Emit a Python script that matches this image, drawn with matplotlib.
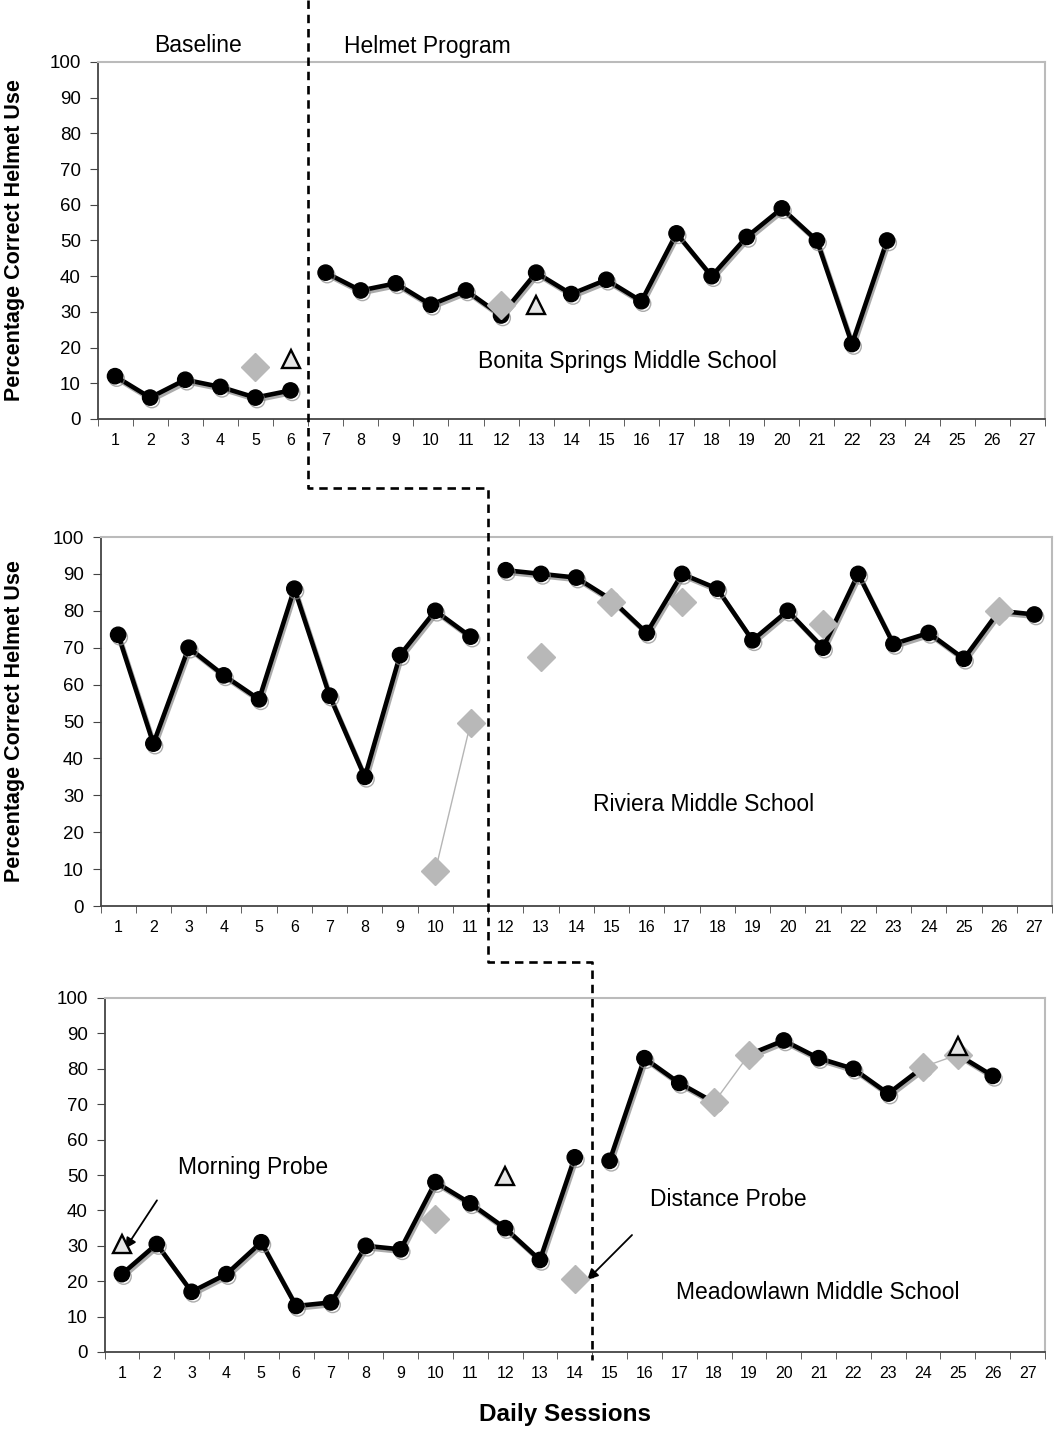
import numpy as np
import matplotlib
matplotlib.use("Agg")
import matplotlib.pyplot as plt
import matplotlib.patheffects as pe
from matplotlib.lines import Line2D

plt.rcParams['font.family'] = ['Liberation Sans', 'DejaVu Sans']

# ---- Bonita Springs (ust panel) ----
top_base_x = [1, 2, 3, 4, 5, 6]
top_base_y = [12, 6, 11, 9, 6, 8]
top_prog_x = list(range(7, 24))
top_prog_y = [41, 36, 38, 32, 36, 29, 41, 35, 39, 33, 52, 40, 51, 59, 50, 21, 50]
top_dia_x = [5, 12]
top_dia_y = [14.5, 32]
top_tri_x = [6, 13]
top_tri_y = [16.7, 31.8]

# ---- Riviera (orta panel) ----
mid_base_x = list(range(1, 12))
mid_base_y = [73.5, 44, 70, 62.5, 56, 86, 57, 35, 68, 80, 73]
mid_prog_x = list(range(12, 28))
mid_prog_y = [91, 90, 89, 83, 74, 90, 86, 72, 80, 70, 90, 71, 74, 67, 80, 79]
mid_dia_x = [10, 11, 13, 15, 17, 21, 26]
mid_dia_y = [9.5, 49.5, 67.5, 82.5, 82.5, 76.5, 80]

# ---- Meadowlawn (alt panel) ----
bot_base_x = list(range(1, 15))
bot_base_y = [22, 30.5, 17, 22, 31, 13, 14, 30, 29, 48, 42, 35, 26, 55]
bot_prog1_x = [15, 16, 17, 18]
bot_prog1_y = [54, 83, 76, 70.5]
bot_prog2_x = [19, 20, 21, 22, 23, 24]
bot_prog2_y = [84, 88, 83, 80, 73, 80.5]
bot_prog3_x = [25, 26]
bot_prog3_y = [84, 78]
bot_dia_x = [10, 14, 18, 19, 24, 25]
bot_dia_y = [37.5, 20.5, 70.5, 84, 80.5, 84]
bot_tri_x = [1, 12, 25]
bot_tri_y = [30.5, 49.7, 86.5]

sessions = list(range(1, 28))
yticks = list(range(0, 101, 10))

W, H = 1062, 1430
fig = plt.figure(figsize=(W / 100, H / 100), dpi=100)


def px_axes(left, right, ytop, ybot):
    # piksel kenarlarindan eksen olustur
    return fig.add_axes([left / W, 1 - ybot / H, (right - left) / W, (ybot - ytop) / H])


def style_axes(ax):
    ax.set_xlim(0.5, 27.5)
    ax.set_ylim(0, 100)
    ax.set_xticks(sessions)
    ax.set_xticklabels([str(s) for s in sessions], fontsize=11.5)
    ax.set_xticks(np.arange(0.5, 28, 1), minor=True)
    ax.tick_params(axis='x', which='major', length=0, pad=10)
    ax.tick_params(axis='x', which='minor', length=5, direction='out', color='#444444')
    ax.set_yticks(yticks)
    ax.set_yticklabels([str(v) for v in yticks], fontsize=13.5)
    ax.tick_params(axis='y', length=6, direction='out', color='#444444', pad=6)
    for s in ['left', 'bottom']:
        ax.spines[s].set_color('#444444')
        ax.spines[s].set_linewidth(1.3)
    for s in ['top', 'right']:
        ax.spines[s].set_color('#bbbbbb')
        ax.spines[s].set_linewidth(1.5)


shadow = [pe.SimpleLineShadow(offset=(1.2, -1.8), shadow_color='#888888', alpha=0.7), pe.Normal()]


def black_run(ax, x, y):
    ax.plot(x, y, color='black', lw=3.3, marker='o', ms=11, zorder=3,
            path_effects=shadow, clip_on=False)


def grey_diamonds(ax, x, y):
    # ardisik oturumlar ince gri cizgiyle baglanir
    runs = [[0]]
    for i in range(1, len(x)):
        if x[i] - x[i - 1] == 1:
            runs[-1].append(i)
        else:
            runs.append([i])
    for r in runs:
        ax.plot([x[i] for i in r], [y[i] for i in r], color='#b5b5b5', lw=1.0,
                marker='D', ms=14.5, mfc='#b8b8b8', mec='#b8b8b8', zorder=4, clip_on=False)


def triangles(ax, x, y):
    ax.plot(x, y, ls='none', marker='^', ms=12.5, mfc='#e6e6e6', mec='black', mew=1.7, zorder=5)


ax1 = px_axes(97.5, 1045, 62, 419)
ax2 = px_axes(100.5, 1052, 537, 906)
ax3 = px_axes(104.5, 1045, 998, 1352)
for ax in [ax1, ax2, ax3]:
    style_axes(ax)

# Ust panel
black_run(ax1, top_base_x, top_base_y)
black_run(ax1, top_prog_x, top_prog_y)
grey_diamonds(ax1, top_dia_x, top_dia_y)
triangles(ax1, top_tri_x, top_tri_y)
ax1.text(15.6, 16, 'Bonita Springs Middle School', fontsize=16.5, ha='center', va='center')

# Orta panel
black_run(ax2, mid_base_x, mid_base_y)
black_run(ax2, mid_prog_x, mid_prog_y)
grey_diamonds(ax2, mid_dia_x, mid_dia_y)
ax2.text(17.6, 27.4, 'Riviera Middle School', fontsize=16.5, ha='center', va='center')

# Alt panel
black_run(ax3, bot_base_x, bot_base_y)
black_run(ax3, bot_prog1_x, bot_prog1_y)
black_run(ax3, bot_prog2_x, bot_prog2_y)
black_run(ax3, bot_prog3_x, bot_prog3_y)
grey_diamonds(ax3, bot_dia_x, bot_dia_y)
triangles(ax3, bot_tri_x, bot_tri_y)
ax3.text(4.77, 52, 'Morning Probe', fontsize=16.5, ha='center', va='center')
ax3.text(18.4, 43, 'Distance Probe', fontsize=16.5, ha='center', va='center')
ax3.text(20.97, 16.7, 'Meadowlawn Middle School', fontsize=16.5, ha='center', va='center')
ax3.annotate('', xy=(1.05, 28.5), xytext=(2.05, 43.5),
             arrowprops=dict(arrowstyle='-|>', color='black', lw=1.3, mutation_scale=16))
ax3.annotate('', xy=(14.3, 19.8), xytext=(15.7, 33.6),
             arrowprops=dict(arrowstyle='-|>', color='black', lw=1.3, mutation_scale=16))

# Eksen basliklari (dikey yazi, ortasi x=15 piksel civarinda)
ax1.text(15 / W, 0.5, 'Percentage Correct Helmet Use', fontsize=15.5, fontweight='bold',
         rotation=90, ha='center', va='center',
         transform=matplotlib.transforms.blended_transform_factory(fig.transFigure, ax1.transAxes))
ax2.text(15 / W, 0.5, 'Percentage Correct Helmet Use', fontsize=15.5, fontweight='bold',
         rotation=90, ha='center', va='center',
         transform=matplotlib.transforms.blended_transform_factory(fig.transFigure, ax2.transAxes))
fig.text(565 / W, 1 - 1415 / H, 'Daily Sessions', fontsize=17.5, fontweight='bold',
         ha='center', va='center')
fig.text(198 / W, 1 - 46 / H, 'Baseline', fontsize=16.5, ha='center', va='center')
fig.text(427 / W, 1 - 46 / H, 'Helmet Program', fontsize=16.5, ha='center', va='center')

# Faz degisim cizgisi (merdiven seklinde, kesikli)
inv = fig.transFigure.inverted()


def fx(ax, x):
    return inv.transform(ax.transData.transform((x, 0)))[0]


x1 = fx(ax1, 6.5)
x2 = fx(ax2, 11.5)
x3 = fx(ax3, 14.5)
y1 = 1 - 488 / H
y2 = 1 - 962 / H
yend = 1 - 1360 / H
step_x = [x1, x1, x2, x2, x3, x3]
step_y = [1.0, y1, y1, y2, y2, yend]
fig.add_artist(Line2D(step_x, step_y, transform=fig.transFigure, color='black',
                      lw=1.9, ls=(0, (3.2, 2.2)), zorder=10))

fig.savefig('out.png', dpi=100)
